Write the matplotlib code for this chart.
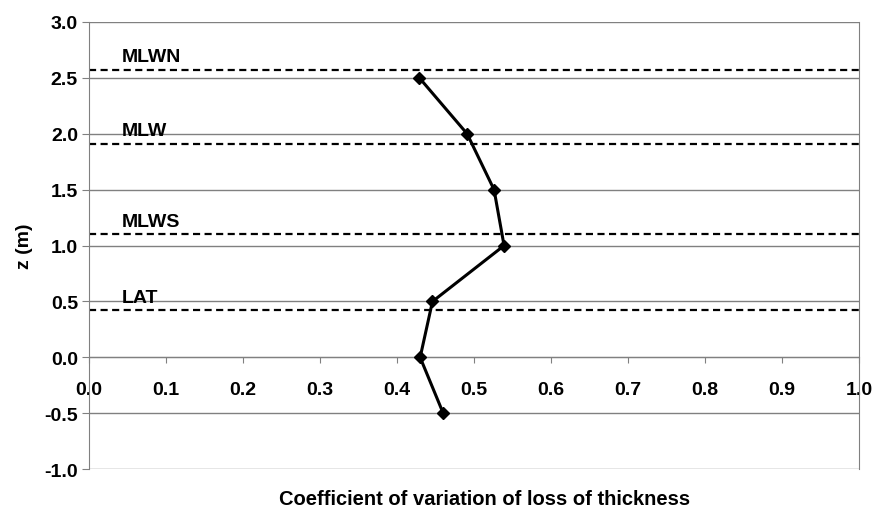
import matplotlib
matplotlib.use('Agg')
import matplotlib.pyplot as plt

plt.rcParams['font.family'] = ['Liberation Sans', 'DejaVu Sans']
plt.rcParams['font.weight'] = 'bold'

# Coefficient of variation at each elevation
depth_z = [2.5, 2.0, 1.5, 1.0, 0.5, 0.0, -0.5]
cov_loss = [0.429, 0.491, 0.526, 0.539, 0.446, 0.430, 0.460]

# Tidal reference levels
level_names = ['MLWN', 'MLW', 'MLWS', 'LAT']
level_z = [2.57, 1.91, 1.10, 0.42]

x_ticks = [0.0, 0.1, 0.2, 0.3, 0.4, 0.5, 0.6, 0.7, 0.8, 0.9, 1.0]
y_ticks = [-1.0, -0.5, 0.0, 0.5, 1.0, 1.5, 2.0, 2.5, 3.0]

grey = '#808080'
fs = 14

fig = plt.figure(figsize=(8.73, 5.10), dpi=100)
ax = fig.add_axes([0.102, 0.078, 0.882, 0.877])

# x axis crosses at z = 0 (set before the ticks, it resets them)
ax.spines['bottom'].set_position(('data', 0))
ax.spines['bottom'].set_color(grey)
ax.spines['left'].set_color(grey)
ax.spines['right'].set_color(grey)
ax.spines['top'].set_visible(False)

ax.set_xlim(0, 1)
ax.set_ylim(-1, 3)
ax.set_xticks(x_ticks)
ax.set_yticks(y_ticks)
ax.set_xticklabels([f'{v:.1f}' for v in x_ticks])
ax.set_yticklabels([f'{v:.1f}' for v in y_ticks])
ax.tick_params(axis='x', direction='out', length=4, color=grey, pad=13, labelsize=fs)
ax.tick_params(axis='y', direction='out', length=5, color=grey, pad=3, labelsize=fs)

# horizontal grid at every half metre
for y in y_ticks:
    ax.axhline(y, color=grey, lw=1.0, zorder=1)

for name, z in zip(level_names, level_z):
    ax.axhline(z, color='black', lw=1.6, ls=(0, (3.2, 2.0)), zorder=2)
    ax.annotate(name, xy=(0.043, z), xytext=(0, 9.5), textcoords='offset points',
                ha='left', va='center', fontsize=fs, fontweight='bold', zorder=3)

ax.plot(cov_loss, depth_z, color='black', lw=2.2, marker='D', markersize=6,
        zorder=4, clip_on=False)

ax.set_ylabel('z (m)', fontsize=fs, fontweight='bold', labelpad=8)
fig.text(0.555, 0.002, 'Coefficient of variation of loss of thickness',
         ha='center', va='bottom', fontsize=14.5, fontweight='bold')

fig.savefig('out.png', dpi=100)
